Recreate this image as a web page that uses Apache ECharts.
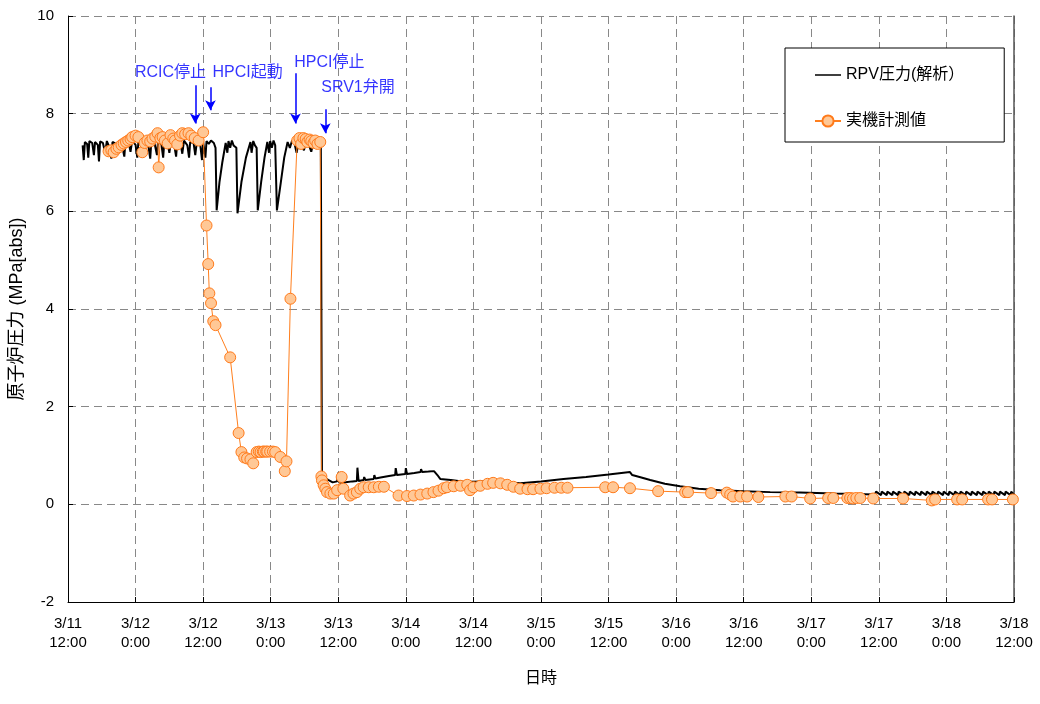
<!DOCTYPE html>
<html><head><meta charset="utf-8">
<script src="https://cdn.jsdelivr.net/npm/echarts@6/dist/echarts.min.js"></script>
<style>html,body{margin:0;padding:0;background:#fff}#c{width:1040px;height:704px}</style>
</head><body><div id="c"></div>
<script>
// hours since 3/11 12:00
const tickLabels = ['3/11\n12:00','3/12\n0:00','3/12\n12:00','3/13\n0:00','3/13\n12:00','3/14\n0:00','3/14\n12:00','3/15\n0:00','3/15\n12:00','3/16\n0:00','3/16\n12:00','3/17\n0:00','3/17\n12:00','3/18\n0:00','3/18\n12:00'];

const rpvAnalysis = [
 [2.6,7.35],[2.8,7.05],[3.0,7.42],[3.4,7.38],[3.6,7.1],[3.8,7.44],[4.3,7.4],[4.6,7.15],[4.8,7.42],[5.3,7.36],[5.5,7.02],[5.7,7.43],
 [6.2,7.4],[6.6,7.2],[6.9,7.44],[7.4,7.3],[7.7,7.08],[7.9,7.42],[8.5,7.38],[8.8,7.18],[9.0,7.44],[9.6,7.35],[10.0,7.12],[10.2,7.43],
 [10.8,7.4],[11.1,7.22],[11.4,7.45],[12.0,7.36],[12.3,7.1],[12.5,7.42],[13.1,7.4],[13.4,7.2],[13.7,7.44],[14.3,7.32],[14.6,7.08],[14.8,7.43],
 [15.4,7.38],[15.8,7.15],[16.0,7.45],[16.6,7.36],[16.9,7.1],[17.1,7.42],[17.7,7.4],[18.0,7.2],[18.3,7.44],[18.9,7.33],[19.2,7.12],[19.4,7.43],
 [20.0,7.38],[20.3,7.18],[20.6,7.45],[21.2,7.35],[21.5,7.1],[21.7,7.42],[22.3,7.4],[22.6,7.15],[22.9,7.44],[23.5,7.35],[23.8,7.05],[24.0,7.42],
 [24.4,7.1],[24.6,7.44],[25.0,7.38],[25.4,7.45],[25.9,7.4],[26.2,7.3],[26.4,6.02],[26.9,6.6],[27.4,7.0],[28.0,7.4],
 [28.3,7.2],[28.5,7.44],[28.8,7.3],[29.1,7.45],[29.4,7.35],[29.9,7.3],[30.1,5.96],[30.8,6.6],[31.6,7.1],[32.4,7.42],
 [32.6,7.2],[32.9,7.44],[33.2,7.35],[33.5,7.3],[33.7,6.02],[34.3,6.6],[34.9,7.1],[35.4,7.42],
 [35.7,7.2],[35.9,7.44],[36.2,7.3],[36.5,7.45],[36.8,7.35],[37.1,6.02],[37.8,6.6],[38.4,7.1],[39.0,7.42],
 [39.4,7.3],[39.8,7.45],[40.2,7.4],[40.6,7.2],[41.0,7.44],[41.5,7.38],[41.9,7.25],[42.3,7.45],[42.8,7.35],[43.2,7.22],[43.6,7.44],[44.1,7.38],[44.6,7.3],[44.9,7.4],
 [45.1,0.63],[45.5,0.55],[46.2,0.5],[47.0,0.45],[47.8,0.47],[48.0,0.65],[48.2,0.44],[49.3,0.45],[50.5,0.47],[51.3,0.48],[51.4,0.75],[51.6,0.48],
 [52.5,0.5],[52.6,0.56],[52.8,0.5],[54.3,0.52],[54.4,0.6],[54.6,0.53],[55.5,0.55],[55.6,0.58],[55.8,0.55],[57.0,0.58],[58.1,0.6],[58.2,0.74],[58.4,0.6],
 [59.9,0.62],[60.0,0.74],[60.2,0.62],[61.5,0.64],[62.6,0.66],[62.7,0.72],[62.9,0.66],[64.0,0.67],[65.0,0.68],[65.2,0.7],[65.6,0.6],[66.1,0.52],
 [68.0,0.5],[70.0,0.47],[71.4,0.46],[71.6,0.49],[74.0,0.47],[77.0,0.45],[80.3,0.43],[84.0,0.47],[88.0,0.52],[92.0,0.56],[96.0,0.61],[99.8,0.66],
 [100.2,0.6],[101.5,0.56],[103.4,0.5],[106.0,0.42],[108.7,0.37],[112.0,0.32],[115.8,0.29],[120.0,0.27],[124.7,0.25],[130.0,0.24],[136.0,0.22],[143.3,0.2],
 [143.5,0.26],[144.4,0.19],[144.5,0.26],[145.4,0.19],[145.5,0.26],[146.4,0.19],[146.5,0.26],[147.4,0.19],[147.5,0.26],[148.4,0.19],
 [148.5,0.26],[149.4,0.19],[149.5,0.26],[150.4,0.19],[150.5,0.26],[151.4,0.19],[151.5,0.26],[152.4,0.19],[152.5,0.26],[153.4,0.19],
 [153.5,0.26],[154.4,0.19],[154.5,0.26],[155.4,0.19],[155.5,0.26],[156.4,0.19],[156.5,0.26],[157.4,0.19],[157.5,0.26],[158.4,0.19],
 [158.5,0.26],[159.4,0.19],[159.5,0.26],[160.4,0.19],[160.5,0.26],[161.4,0.19],[161.5,0.26],[162.4,0.19],[162.5,0.26],[163.4,0.19],
 [163.5,0.26],[164.4,0.19],[164.5,0.26],[165.4,0.19],[165.5,0.26],[166.4,0.19],[166.5,0.26],[167.4,0.19],[167.5,0.26],[168.0,0.2]
];

const measured = [
 [7.2,7.23],[7.7,7.25],[8.1,7.21],[8.6,7.28],[9.0,7.31],[9.5,7.36],[9.9,7.39],[10.3,7.42],[10.7,7.45],[11.1,7.48],[11.4,7.52],[12.0,7.55],
 [12.5,7.52],[13.2,7.21],[13.6,7.4],[14.1,7.45],[14.6,7.43],[15.0,7.49],[15.5,7.53],[15.9,7.6],[16.1,6.9],[16.4,7.5],[16.8,7.52],[17.2,7.45],
 [17.7,7.39],[18.2,7.56],[18.7,7.49],[19.0,7.45],[19.4,7.37],[19.9,7.55],[20.3,7.6],[20.8,7.58],[21.4,7.6],[21.9,7.55],[22.5,7.5],[23.2,7.45],[24.0,7.62],
 [24.6,5.71],[24.9,4.92],[25.1,4.32],[25.4,4.12],[25.8,3.75],[26.2,3.67],[28.8,3.01],[30.3,1.46],[30.8,1.07],[31.3,0.96],[31.8,0.94],
 [32.4,0.92],[32.9,0.84],[33.5,1.07],[33.9,1.08],[34.2,1.07],[34.6,1.08],[34.8,1.08],[35.2,1.08],[35.4,1.08],[35.9,1.08],[36.4,1.08],[36.8,1.07],
 [37.7,0.97],[38.5,0.68],[38.8,0.88],[39.5,4.21],[40.7,7.45],[41.1,7.5],[41.4,7.38],[41.8,7.5],[42.2,7.48],[42.5,7.42],[42.9,7.47],[43.2,7.44],
 [43.6,7.4],[43.9,7.45],[44.3,7.38],[44.8,7.42],
 [45.0,0.57],[45.1,0.49],[45.4,0.39],[45.7,0.32],[46.0,0.25],[46.6,0.22],[47.2,0.22],[47.8,0.29],[48.6,0.56],[48.9,0.32],
 [50.1,0.18],[50.7,0.22],[51.3,0.25],[51.9,0.32],[52.5,0.35],[53.4,0.35],[54.3,0.35],[55.2,0.36],[56.1,0.36],
 [58.7,0.18],[60.2,0.17],[61.4,0.18],[62.6,0.2],[63.8,0.22],[64.9,0.25],[65.8,0.28],[66.7,0.33],[67.3,0.35],[68.5,0.37],[69.7,0.38],[70.9,0.4],
 [71.4,0.29],[72.0,0.35],[73.2,0.38],[74.5,0.42],[75.5,0.44],[76.8,0.43],[78.0,0.4],[79.1,0.36],[80.3,0.32],[81.6,0.31],[82.6,0.31],[83.9,0.32],
 [85.0,0.33],[86.4,0.34],[87.6,0.34],[88.7,0.34],[95.4,0.35],[96.8,0.35],[99.8,0.33],[104.8,0.27],[109.6,0.25],[110.1,0.25],[114.2,0.23],
 [117.0,0.24],[117.6,0.2],[118.1,0.16],[119.4,0.16],[120.6,0.16],[122.6,0.15],[127.4,0.16],[128.5,0.16],[131.8,0.12],[135.0,0.13],[135.9,0.13],
 [138.4,0.13],[138.9,0.13],[139.4,0.12],[140.0,0.13],[140.7,0.13],[143.0,0.12],[148.3,0.12],[153.4,0.08],[154.0,0.1],[157.9,0.1],[158.8,0.1],
 [163.4,0.1],[164.1,0.1],[167.8,0.1]
];

const eventLabels = ['RCIC停止','HPCI起動','HPCI停止','SRV1弁開'];
const labelPos = [[18.2,8.85],[31.9,8.85],[46.4,9.05],[51.5,8.54]];
const arrowTime = [22.6,25.3,40.4,45.7];
const arrowTop = [8.58,8.54,8.83,8.09];
const arrowBottom = [7.80,8.07,7.80,7.60];

const FONT = "'Liberation Sans', Arial, 'Noto Sans CJK JP', sans-serif";
const LINE_ICON = 'path://M0,6.3 L26,6.3 L26,7.7 L0,7.7 Z M0,0 L0,0 Z M26,14 L26,14 Z';
const chart = echarts.init(document.getElementById('c'), null, {renderer:'canvas'});
chart.setOption({
  animation:false,
  backgroundColor:'#fff',
  textStyle:{fontFamily:FONT},
  grid:{left:68,right:26,top:16,bottom:102},
  legend:{
    orient:'vertical', left:785, top:48, width:205,
    padding:[19,40,13,29], itemGap:30, itemWidth:26, itemHeight:14,
    borderColor:'#000', borderWidth:1, backgroundColor:'#fff',
    textStyle:{fontSize:16,color:'#000',fontFamily:FONT},
    data:[{name:'RPV圧力(解析）', icon:LINE_ICON, itemStyle:{color:'#000'}},'実機計測値']
  },
  xAxis:{
    type:'value', min:0, max:168, interval:12,
    name:'日時', nameLocation:'middle', nameGap:69,
    nameTextStyle:{fontSize:16,color:'#000',fontFamily:FONT},
    axisLine:{show:true,onZero:false,lineStyle:{color:'#000',width:1}},
    axisTick:{show:true,inside:true,length:5,lineStyle:{color:'#000'}},
    axisLabel:{fontSize:15,color:'#000',lineHeight:19,margin:12,fontFamily:FONT,
      formatter:v=>tickLabels[Math.round(v/12)]},
    splitLine:{show:true,lineStyle:{color:'#888',type:[8,5],width:1}}
  },
  yAxis:[{
    type:'value', min:-2, max:10, interval:2,
    name:'原子炉圧力 (MPa[abs])', nameLocation:'middle', nameGap:42, nameRotate:90,
    nameTextStyle:{fontSize:18,color:'#000',fontFamily:FONT},
    axisLine:{show:true,onZero:false,lineStyle:{color:'#000',width:1}},
    axisTick:{show:true,inside:true,length:5,lineStyle:{color:'#000'}},
    axisLabel:{fontSize:15,color:'#000',margin:14,fontFamily:FONT},
    splitLine:{show:true,lineStyle:{color:'#888',type:[8,5],width:1}}
  },{
    type:'value', min:-2, max:10, interval:2, position:'right',
    axisLine:{show:true,onZero:false,lineStyle:{color:'#555',width:1.5}},
    axisTick:{show:false}, axisLabel:{show:false}, splitLine:{show:false}
  }],
  series:[
    {name:'RPV圧力(解析）', type:'line', data:rpvAnalysis, showSymbol:false, symbol:'none',
     lineStyle:{color:'#000',width:2}, itemStyle:{color:'#000'}, z:2},
    {name:'実機計測値', type:'line', data:measured, symbol:'circle', symbolSize:11, showSymbol:true,
     lineStyle:{color:'#FF7F1E',width:1}, itemStyle:{color:'#FFC896',borderColor:'#FF7A1A',borderWidth:1}, z:3},
    {name:'events', type:'scatter', symbolSize:0, silent:true, z:5,
     data:labelPos.map((p,i)=>({value:p, label:{show:true, position:'inside', formatter:eventLabels[i]}})),
     label:{color:'#0000FF',fontSize:16,fontFamily:FONT},
     markLine:{silent:true, symbol:['none','arrow'], symbolSize:[8,10], label:{show:false},
       lineStyle:{color:'#0000FF',width:1.5,type:'solid'},
       data:arrowTime.map((t,i)=>[{coord:[t,arrowTop[i]]},{coord:[t,arrowBottom[i]]}])}
    }
  ]
});
</script></body></html>
